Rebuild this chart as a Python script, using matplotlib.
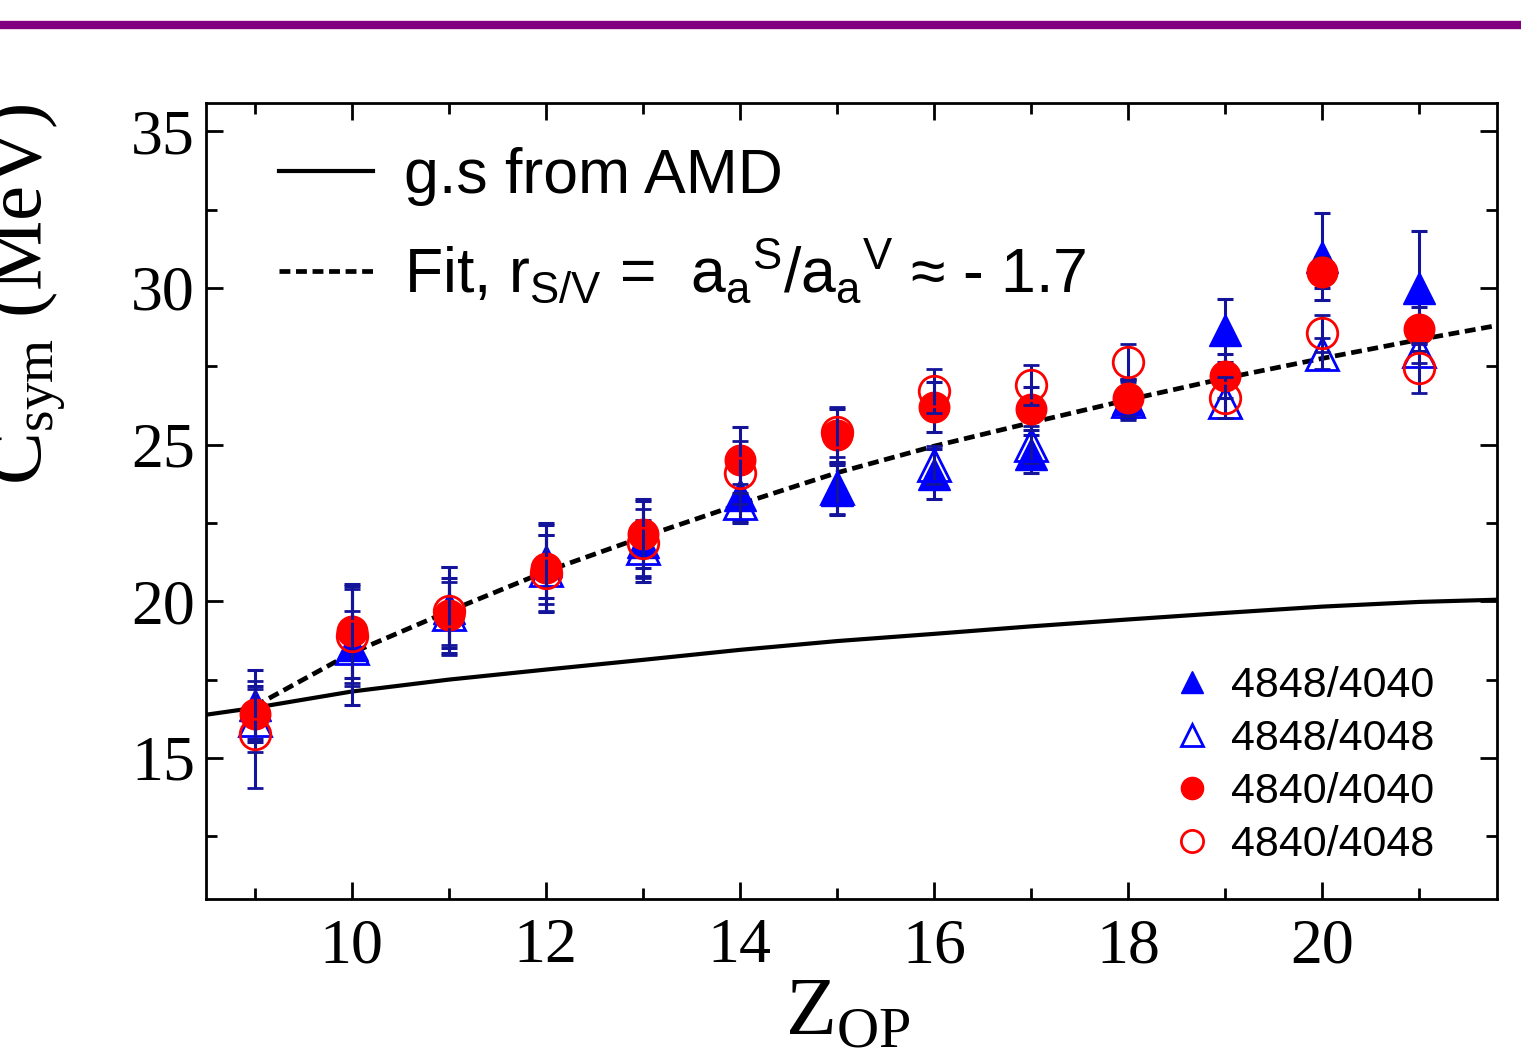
import matplotlib
matplotlib.use("Agg")
import matplotlib.pyplot as plt
from matplotlib.lines import Line2D
import numpy as np

# ---------------- data ----------------
Z = [9, 10, 11, 12, 13, 14, 15, 16, 17, 18, 19, 20, 21]

c_4848_4040 = [16.7, 18.6, 19.8, 21.3, 21.9, 23.4, 23.55, 24.05, 24.7, 26.45, 28.65, 31.0, 30.0]
e_4848_4040 = [1.1, 1.9, 1.3, 1.2, 1.3, 0.9, 0.8, 0.8, 0.6, 0.6, 1.0, 1.4, 1.8]

c_4848_4048 = [16.2, 18.5, 19.6, 21.0, 21.7, 23.15, 23.6, 24.35, 25.0, 26.4, 26.35, 27.9, 28.0]
e_4848_4048 = [1.0, 1.2, 1.0, 1.1, 0.9, 0.6, 0.8, 0.6, 0.6, 0.6, 0.5, 0.5, 0.4]

c_4840_4040 = [16.4, 19.05, 19.55, 21.05, 22.15, 24.5, 25.3, 26.2, 26.15, 26.5, 27.2, 30.5, 28.7]
e_4840_4040 = [0.9, 1.5, 1.2, 1.4, 1.1, 1.05, 0.85, 0.8, 0.7, 0.6, 0.7, 0.5, 0.7]

c_4840_4048 = [15.75, 18.9, 19.7, 20.9, 21.85, 24.1, 25.4, 26.7, 26.9, 27.65, 26.5, 28.55, 27.45]
e_4840_4048 = [1.7, 1.5, 1.4, 1.2, 1.1, 1.0, 0.8, 0.7, 0.65, 0.55, 0.65, 0.6, 0.8]

gs_z = [8.5, 9, 10, 11, 12, 13, 14, 15, 16, 17, 18, 19, 20, 21, 21.8]
gs_c = [16.38, 16.6, 17.12, 17.5, 17.82, 18.13, 18.45, 18.73, 18.96, 19.2, 19.42, 19.63, 19.83, 19.98, 20.05]

fit_z = [9, 10, 11, 12, 13, 14, 15, 16, 17, 18, 19, 20, 21, 21.8]
fit_c = [16.65, 18.35, 19.68, 20.95, 22.05, 23.1, 24.1, 24.95, 25.7, 26.43, 27.12, 27.75, 28.35, 28.8]

labels = ["4848/4040", "4848/4048", "4840/4040", "4840/4048"]
gs_label = "g.s from AMD"
fit_label = (r"Fit, r$_{\mathdefault{S/V}}$ =  a$_{\mathdefault{a}}$$^{\mathdefault{S}}$"
             r"/a$_{\mathdefault{a}}$$^{\mathdefault{V}}$ ≈ - 1.7")

# ---------------- figure ----------------
fig = plt.figure(figsize=(15.21, 10.52), dpi=100)
ax = fig.add_axes([206 / 1521, 1 - 899 / 1052, (1497 - 206) / 1521, (899 - 103) / 1052])

# purple banner line
fig.add_artist(Line2D([0, 1], [1 - 25 / 1052, 1 - 25 / 1052], transform=fig.transFigure,
                      color="#800080", lw=6))

BLUE = "#0000FF"
RED = "#FF0000"
EBC = "#14149A"

l_gs, = ax.plot(gs_z, gs_c, color="black", lw=3.0, zorder=2)
l_fit, = ax.plot(fit_z, fit_c, color="black", lw=3.4, ls=(0, (2.3, 1.2)), zorder=3)

ek = dict(ecolor=EBC, elinewidth=2.2, capsize=6, capthick=2.2, ls="none")
ax.errorbar(Z, c_4848_4040, yerr=e_4848_4040, marker="^", ms=23, mfc=BLUE, mec=BLUE,
            zorder=4, **ek)
ax.errorbar(Z, c_4848_4048, yerr=e_4848_4048, marker="^", ms=23, mfc="none", mec=BLUE,
            mew=2.0, zorder=5, **ek)
ax.errorbar(Z, c_4840_4040, yerr=e_4840_4040, marker="o", ms=22, mfc=RED, mec=RED,
            zorder=6, **ek)
ax.errorbar(Z, c_4840_4048, yerr=e_4840_4048, marker="o", ms=22, mfc="none", mec=RED,
            mew=2.0, zorder=7, **ek)

ax.set_xlim(8.5, 21.8)
ax.set_ylim(10.5, 35.9)
ax.set_xticks([10, 12, 14, 16, 18, 20])
ax.set_xticks(np.arange(9, 22, 2), minor=True)
ax.set_yticks([15, 20, 25, 30, 35])
ax.set_yticks([12.5, 17.5, 22.5, 27.5, 32.5], minor=True)
ax.tick_params(which="both", direction="in", top=True, right=True, width=2)
ax.tick_params(which="major", length=12)
ax.tick_params(which="minor", length=8)
ax.tick_params(axis="x", pad=14)
ax.tick_params(axis="y", pad=8)
for s in ax.spines.values():
    s.set_linewidth(2)
for t in ax.get_xticklabels():
    t.set_fontfamily("Liberation Serif")
    t.set_fontsize(46)
for t in ax.get_yticklabels():
    t.set_fontfamily("Liberation Serif")
    t.set_fontsize(46)

fig.text(0.018, 0.72, r"C$_{\mathdefault{sym}}$ (MeV)", rotation=90, ha="center", va="center",
         family="Liberation Serif", fontsize=57)
fig.text(848 / 1521, 1 - 1035 / 1052, r"Z$_{\mathdefault{OP}}$", ha="center", va="baseline",
         family="Liberation Serif", fontsize=60)

leg1 = ax.legend([l_gs, l_fit], [gs_label, fit_label], loc="upper left",
                 bbox_to_anchor=(0.037, 0.976), frameon=False, handlelength=1.5,
                 handletextpad=0.5, labelspacing=0.5, borderaxespad=0,
                 prop={"family": ["Liberation Sans", "DejaVu Sans"], "size": 45})
ax.add_artist(leg1)

h = [Line2D([], [], ls="none", marker="^", ms=16, mfc=BLUE, mec=BLUE),
     Line2D([], [], ls="none", marker="^", ms=16, mfc="none", mec=BLUE, mew=2),
     Line2D([], [], ls="none", marker="o", ms=16, mfc=RED, mec=RED),
     Line2D([], [], ls="none", marker="o", ms=16, mfc="none", mec=RED, mew=2)]
ax.legend(h, labels, loc="upper left", bbox_to_anchor=(0.737, 0.314), frameon=False,
          handlelength=0.8, handletextpad=0.5, labelspacing=0.30, borderaxespad=0,
          prop={"family": ["Liberation Sans", "DejaVu Sans"], "size": 31})

fig.savefig("out.png", dpi=100)
